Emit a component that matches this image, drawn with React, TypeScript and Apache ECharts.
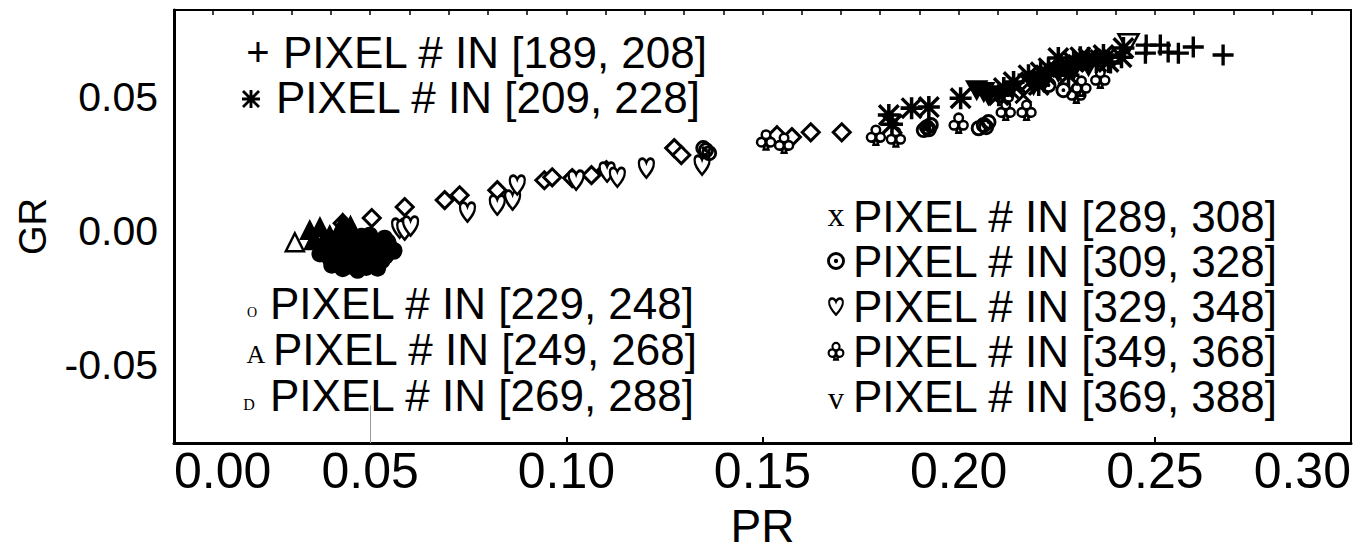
import React, { useEffect, useRef } from 'react';
import * as echarts from 'echarts';

// ---------- data (PR, GR) ----------
const plusPts = [
  [0.2478, 0.0694], [0.2476, 0.0664], [0.2514, 0.0694], [0.2534, 0.0668],
  [0.2560, 0.0664], [0.2598, 0.0687], [0.2674, 0.0657], [0.2387, 0.0627],
];
const starPts = [
  [0.1822, 0.0433], [0.1830, 0.0399], [0.1880, 0.0459], [0.1924, 0.0463],
  [0.2005, 0.0496], [0.2115, 0.0534], [0.2140, 0.0556], [0.2178, 0.0582],
  [0.2209, 0.0593], [0.2229, 0.0608], [0.2254, 0.0646], [0.2275, 0.0619],
  [0.2293, 0.0631], [0.2310, 0.0649], [0.2331, 0.0646], [0.2351, 0.0631],
  [0.2369, 0.0657], [0.2415, 0.0649], [0.2420, 0.0683], [0.2102, 0.0507],
  [0.2204, 0.0545], [0.2280, 0.0582], [0.2382, 0.0631],
];
const oPts = [
  [0.0384, -0.0071], [0.0397, -0.0101], [0.0410, -0.0052], [0.0422, -0.0116],
  [0.0435, -0.0078], [0.0448, -0.0034], [0.0453, -0.0131], [0.0461, -0.0093],
  [0.0473, -0.0056], [0.0478, -0.0019], [0.0486, -0.0116], [0.0494, -0.0078],
  [0.0504, -0.0041], [0.0511, -0.0101], [0.0519, -0.0138], [0.0524, -0.0063],
  [0.0537, -0.0026], [0.0539, -0.0093], [0.0550, -0.0060], [0.0422, -0.0026],
  [0.0402, -0.0127], [0.0468, -0.0146], [0.0499, -0.0015], [0.0443, -0.0101],
  [0.0372, -0.0085], [0.0458, -0.0110], [0.0530, -0.0110], [0.0545, -0.0040],
  [0.0415, -0.0085], [0.0490, -0.0135], [0.0560, -0.0075], [0.0430, -0.0140],
];
const triPts = [
  [0.0308, -0.0041], [0.0346, 0.0004], [0.0372, 0.0015], [0.0430, 0.0030],
  [0.0397, -0.0015], [0.0356, -0.0034], [0.0420, -0.0005], [0.0380, -0.0040],
  [0.0450, 0.0020],
];
const diamondPts = [
  [0.0504, 0.0049], [0.0588, 0.0090], [0.0690, 0.0116], [0.0728, 0.0134],
  [0.0824, 0.0153], [0.0944, 0.0190], [0.0964, 0.0201], [0.1015, 0.0198],
  [0.1064, 0.0209], [0.1102, 0.0228], [0.1275, 0.0310], [0.1293, 0.0284],
  [0.1537, 0.0358], [0.1575, 0.0351], [0.1623, 0.0369], [0.1702, 0.0369],
  [0.0430, 0.0030],
];
const xPts = [
  [0.2132, 0.0526], [0.2153, 0.0541], [0.2178, 0.0552], [0.2204, 0.0567],
  [0.2224, 0.0578], [0.2242, 0.0593], [0.2260, 0.0604], [0.2280, 0.0616],
  [0.2300, 0.0627], [0.2318, 0.0631], [0.2336, 0.0638], [0.2356, 0.0646],
  [0.2377, 0.0649], [0.2165, 0.0507],
];
const dotCirclePts = [
  [0.1919, 0.0388], [0.1911, 0.0377], [0.1929, 0.0396], [0.1924, 0.0380],
  [0.2064, 0.0396], [0.2076, 0.0407], [0.2051, 0.0384], [0.2070, 0.0388],
  [0.1356, 0.0302], [0.1364, 0.0291], [0.1349, 0.0310], [0.0562, -0.0071],
  [0.2229, 0.0545], [0.2267, 0.0526],
];
const heartPts = [
  [0.0748, 0.0071], [0.0824, 0.0097], [0.0863, 0.0116], [0.0875, 0.0172],
  [0.1025, 0.0190], [0.1104, 0.0220], [0.1130, 0.0201], [0.1204, 0.0235],
  [0.1346, 0.0246], [0.0575, 0.0011], [0.0588, 0.0004], [0.0603, 0.0019],
];
const clubPts = [
  [0.1509, 0.0340], [0.1555, 0.0328], [0.1789, 0.0358], [0.1840, 0.0351],
  [0.2000, 0.0403], [0.2115, 0.0507], [0.2120, 0.0451], [0.2173, 0.0451],
  [0.2300, 0.0515], [0.2361, 0.0571], [0.2313, 0.0541],
];
const vPts = [
  [0.2064, 0.0519], [0.2076, 0.0507], [0.2046, 0.0526], [0.2191, 0.0545],
  [0.2216, 0.0556], [0.2254, 0.0593], [0.2293, 0.0601], [0.2331, 0.0616],
  [0.2433, 0.0701],
];

const xTickValues = [0, 0.05, 0.1, 0.15, 0.2, 0.25, 0.3];
const yTickValues = [-0.05, 0, 0.05];

const leftLegendLabels = [
  'PIXEL # IN [189, 208]',
  'PIXEL # IN [209, 228]',
  'PIXEL # IN [229, 248]',
  'PIXEL # IN [249, 268]',
  'PIXEL # IN [269, 288]',
];
const rightLegendLabels = [
  'PIXEL # IN [289, 308]',
  'PIXEL # IN [309, 328]',
  'PIXEL # IN [329, 348]',
  'PIXEL # IN [349, 368]',
  'PIXEL # IN [369, 388]',
];
// '' entries are drawn as registered path marks instead of glyphs
const leftLegendMarks = ['+', '', 'O', 'A', 'D'];
const rightLegendMarks = ['x', '', '', '', 'v'];

// ---------- symbols ----------
const PLUS_D = 'M42,0H58V42H100V58H58V100H42V58H0V42H42Z';
const STAR_D = 'M42,0H58V42H100V58H58V100H42V58H0V42H42Z M0,11L11,0L100,89L89,100Z M89,0L100,11L11,100L0,89Z';
const HEART_D = 'M50,96C22,72 2,52 4,28C6,6 38,2 50,28C62,2 94,6 96,28C98,52 78,72 50,96Z';
const CLUB_D = 'M50,2A22,22 0 1,1 50,46A22,22 0 1,1 50,2Z M26,40A22,22 0 1,1 26,84A22,22 0 1,1 26,40Z M74,40A22,22 0 1,1 74,84A22,22 0 1,1 74,40Z M44,78L56,78L62,100L38,100Z';
const DOTC_D = 'M50,0A50,50 0 1,1 50,100A50,50 0 1,1 50,0Z M50,16A34,34 0 1,0 50,84A34,34 0 1,0 50,16Z M50,38A12,12 0 1,1 50,62A12,12 0 1,1 50,38Z';
const PLUS = 'path://' + PLUS_D;
const STAR = 'path://' + STAR_D;
const XMARK = 'path://M0,12L12,0L100,88L88,100Z M88,0L100,12L12,100L0,88Z';
const HEART = 'path://' + HEART_D;
const CLUB = 'path://' + CLUB_D;
const DOTC = 'path://M50,0A50,50 0 1,1 50,100A50,50 0 1,1 50,0Z M50,18A32,32 0 1,0 50,82A32,32 0 1,0 50,18Z M50,38A12,12 0 1,1 50,62A12,12 0 1,1 50,38Z';
const TRIDOWN = 'path://M0,0L100,0L50,90Z';

echarts.graphic.registerShape('starMark', echarts.graphic.extendPath(STAR_D, {}) as any);
echarts.graphic.registerShape('heartMark', echarts.graphic.extendPath(HEART_D, {}) as any);
echarts.graphic.registerShape('clubMark', echarts.graphic.extendPath(CLUB_D, {}) as any);
echarts.graphic.registerShape('dotcMark', echarts.graphic.extendPath(DOTC_D, {}) as any);

const FONT = '"Liberation Sans", Arial, Helvetica, sans-serif';
const SERIF = '"Liberation Serif", "Times New Roman", serif';

function buildOption() {
  const leftRowsY = [52, 97, 303, 349, 395];
  const leftTextX = [283, 276, 270, 273, 270];
  const leftMarkX = [258, 251, 252, 256, 249];
  const leftMarkFont = [`40px ${FONT}`, '', `14px ${SERIF}`, `26px ${SERIF}`, `16px ${SERIF}`];
  const leftMarkDy = [0, 2, 9, 5, 9];
  const rightRowsY = [216, 261, 306, 351, 396];
  const rightMarkFont = [`34px ${SERIF}`, '', '', '', `32px ${SERIF}`];
  const rightMarkDy = [-2, 0, 0, 0, 2];
  const rightShapes = ['', 'dotcMark', 'heartMark', 'clubMark', ''];
  const rightShapeSize = [0, [18, 18], [15, 19], [16, 17], 0] as any[];
  const rightShapeFill = ['', '#000', '#fff', '#fff', ''];

  const graphics: any[] = [];
  leftLegendLabels.forEach((t, i) => {
    if (leftLegendMarks[i]) {
      graphics.push({
        type: 'text', x: leftMarkX[i], y: leftRowsY[i] + leftMarkDy[i], silent: true,
        style: { text: leftLegendMarks[i], font: leftMarkFont[i], fill: '#000', align: 'center', verticalAlign: 'middle' },
      });
    } else {
      graphics.push({
        type: 'starMark', x: leftMarkX[i] - 9, y: leftRowsY[i] + leftMarkDy[i] - 9,
        scaleX: 0.18, scaleY: 0.18, silent: true,
        style: { fill: '#000' },
      });
    }
    graphics.push({
      type: 'text', x: leftTextX[i], y: leftRowsY[i], silent: true,
      style: { text: t, font: `44px ${FONT}`, fill: '#000', align: 'left', verticalAlign: 'middle' },
    });
  });
  rightLegendLabels.forEach((t, i) => {
    if (rightLegendMarks[i]) {
      graphics.push({
        type: 'text', x: 836, y: rightRowsY[i] + rightMarkDy[i], silent: true,
        style: { text: rightLegendMarks[i], font: rightMarkFont[i], fill: '#000', align: 'center', verticalAlign: 'middle' },
      });
    } else {
      const [w, h] = rightShapeSize[i];
      const isDot = rightShapes[i] === 'dotcMark';
      graphics.push({
        type: rightShapes[i], x: 836 - w / 2, y: rightRowsY[i] - h / 2,
        scaleX: w / 100, scaleY: h / 100, silent: true,
        style: isDot
          ? { fill: '#000' }
          : { fill: rightShapeFill[i], stroke: '#000', lineWidth: 2.2, strokeNoScale: true },
      });
    }
    graphics.push({
      type: 'text', x: 853, y: rightRowsY[i], silent: true,
      style: { text: t, font: `44px ${FONT}`, fill: '#000', align: 'left', verticalAlign: 'middle' },
    });
  });

  const hollow = { color: '#fff', borderColor: '#000', borderWidth: 2.5, opacity: 1 };
  const solid = { color: '#000', opacity: 1 };

  return {
    animation: false,
    backgroundColor: '#fff',
    grid: {
      left: 174, right: 4, top: 10, bottom: 108,
      show: true, borderColor: '#000', borderWidth: 2,
      containLabel: false, outerBoundsMode: 'none',
    },
    xAxis: [
      {
        type: 'value', position: 'bottom', min: 0, max: 0.3, interval: 0.05,
        name: 'PR', nameLocation: 'middle', nameGap: 60, nameMoveOverlap: false,
        nameTextStyle: { fontSize: 46, fontFamily: FONT, color: '#000' },
        axisLine: { show: true, onZero: false, lineStyle: { color: '#000', width: 3 } },
        axisTick: { show: true, inside: true, length: 6, lineStyle: { color: '#000', width: 2 }, customValues: [0.1, 0.15, 0.25] },
        axisLabel: {
          show: true, margin: 3, fontSize: 50, fontFamily: FONT, color: '#000',
          alignMinLabel: 'left', alignMaxLabel: 'right',
          customValues: xTickValues,
          formatter: (v: number) => v.toFixed(2),
        },
        splitLine: { show: false },
      },
      {
        type: 'value', position: 'top', min: 0, max: 0.3, interval: 0.01,
        axisLine: { show: true, onZero: false, lineStyle: { color: '#000', width: 2 } },
        axisTick: { show: true, inside: true, length: 5, lineStyle: { color: '#000', width: 1.5 } },
        axisLabel: { show: false },
        splitLine: { show: false },
      },
    ],
    yAxis: {
      type: 'value', min: -0.079, max: 0.0825, splitNumber: 3,
      name: 'GR', nameLocation: 'middle', nameGap: 122, nameRotate: 90, nameMoveOverlap: false,
      nameTextStyle: { fontSize: 38, fontFamily: FONT, color: '#000' },
      axisLine: { show: true, onZero: false, lineStyle: { color: '#000', width: 3 } },
      axisTick: { show: false },
      axisLabel: {
        show: true, margin: 16, fontSize: 41, fontFamily: FONT, color: '#000',
        customValues: yTickValues,
        formatter: (v: number) =>
          Math.abs(v * 20 - Math.round(v * 20)) < 1e-6 ? (Math.abs(v) < 1e-9 ? '0.00' : v.toFixed(2)) : '',
      },
      splitLine: { show: false },
    },
    graphic: graphics,
    series: [
      {
        name: 'PIXEL # IN [269, 288]', type: 'scatter', data: diamondPts,
        symbol: 'diamond', symbolSize: 17,
        itemStyle: { color: '#fff', borderColor: '#000', borderWidth: 3, opacity: 1 },
        markLine: {
          silent: true, symbol: 'none', label: { show: false },
          lineStyle: { color: '#999', width: 1, type: 'solid', opacity: 1 },
          data: [[{ coord: [0.05, -0.079] }, { coord: [0.05, -0.065] }]],
        },
      },
      {
        name: 'PIXEL # IN [329, 348]', type: 'scatter', data: heartPts,
        symbol: HEART, symbolSize: [15, 19], itemStyle: hollow,
      },
      {
        name: 'PIXEL # IN [249, 268]', type: 'scatter',
        data: triPts.map((p, i) => (i === 0 ? { value: p, itemStyle: hollow } : { value: p })),
        symbol: 'triangle', symbolSize: 18, itemStyle: { color: '#000', borderColor: '#000', borderWidth: 2, opacity: 1 },
      },
      {
        name: 'PIXEL # IN [229, 248]', type: 'scatter', data: oPts,
        symbol: 'circle', symbolSize: 17, itemStyle: solid,
      },
      {
        name: 'PIXEL # IN [349, 368]', type: 'scatter', data: clubPts,
        symbol: CLUB, symbolSize: [18, 19], itemStyle: hollow,
      },
      {
        name: 'PIXEL # IN [309, 328]', type: 'scatter', data: dotCirclePts,
        symbol: DOTC, symbolSize: 16, itemStyle: solid,
      },
      {
        name: 'PIXEL # IN [369, 388]', type: 'scatter',
        data: vPts.map((p, i) => (i === vPts.length - 1 ? { value: p, itemStyle: hollow } : { value: p })),
        symbol: TRIDOWN, symbolSize: [20, 18], itemStyle: { color: '#000', borderColor: '#000', borderWidth: 2, opacity: 1 },
      },
      {
        name: 'PIXEL # IN [289, 308]', type: 'scatter', data: xPts,
        symbol: XMARK, symbolSize: 18, itemStyle: solid,
      },
      {
        name: 'PIXEL # IN [209, 228]', type: 'scatter', data: starPts,
        symbol: STAR, symbolSize: 22, itemStyle: solid,
      },
      {
        name: 'PIXEL # IN [189, 208]', type: 'scatter', data: plusPts,
        symbol: PLUS, symbolSize: 21, itemStyle: solid,
      },
    ],
  };
}

export default function App() {
  const ref = useRef<HTMLDivElement>(null);
  useEffect(() => {
    if (!ref.current) return;
    const chart = echarts.init(ref.current, null, { renderer: 'svg' });
    chart.setOption(buildOption() as any);
    return () => chart.dispose();
  }, []);
  return (
    <div
      ref={ref}
      style={{ position: 'fixed', left: 0, top: 0, width: 1355, height: 551, background: '#fff' }}
    />
  );
}
